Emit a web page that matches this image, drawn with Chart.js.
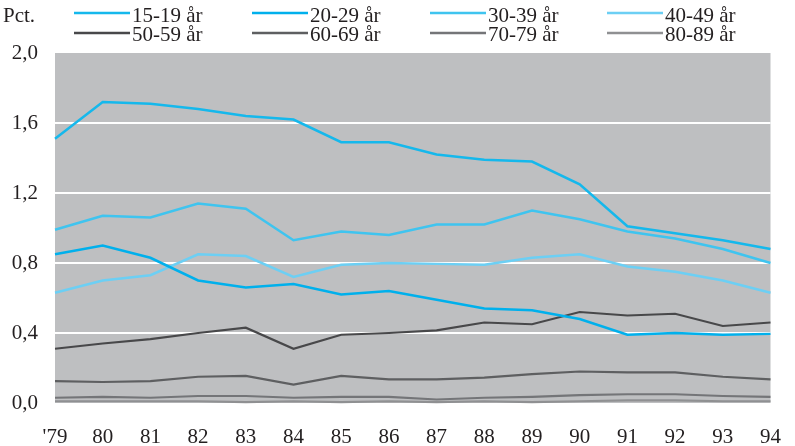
<!DOCTYPE html>
<html>
<head>
<meta charset="utf-8">
<script src="https://cdn.jsdelivr.net/npm/chart.js@4"></script>
<style>
  html, body { margin: 0; padding: 0; background: #fff; }
  #wrap { width: 795px; height: 446px; position: relative; }
</style>
</head>
<body>
<div id="wrap"><canvas id="myChart"></canvas></div>
<script>
  /* DATA */
  const years = ["'79", '80', '81', '82', '83', '84', '85', '86', '87', '88', '89', '90', '91', '92', '93', '94'];
  const seriesNames = ['15-19 år', '20-29 år', '30-39 år', '40-49 år', '50-59 år', '60-69 år', '70-79 år', '80-89 år'];
  const age15to19 = [1.51, 1.72, 1.71, 1.68, 1.64, 1.62, 1.49, 1.49, 1.42, 1.39, 1.38, 1.25, 1.01, 0.97, 0.93, 0.88];
  const age20to29 = [0.85, 0.90, 0.83, 0.70, 0.66, 0.68, 0.62, 0.64, 0.59, 0.54, 0.53, 0.48, 0.39, 0.40, 0.39, 0.395];
  const age30to39 = [0.99, 1.07, 1.06, 1.14, 1.11, 0.93, 0.98, 0.96, 1.02, 1.02, 1.10, 1.05, 0.98, 0.94, 0.88, 0.80];
  const age40to49 = [0.63, 0.70, 0.73, 0.85, 0.84, 0.72, 0.79, 0.80, 0.795, 0.79, 0.83, 0.85, 0.78, 0.75, 0.70, 0.63];
  const age50to59 = [0.31, 0.34, 0.365, 0.40, 0.43, 0.31, 0.39, 0.40, 0.415, 0.46, 0.45, 0.52, 0.50, 0.51, 0.44, 0.46];
  const age60to69 = [0.125, 0.12, 0.125, 0.15, 0.155, 0.105, 0.155, 0.135, 0.135, 0.145, 0.165, 0.18, 0.175, 0.175, 0.15, 0.135];
  const age70to79 = [0.03, 0.035, 0.03, 0.04, 0.04, 0.03, 0.035, 0.035, 0.02, 0.03, 0.035, 0.045, 0.05, 0.05, 0.04, 0.035];
  const age80to89 = [0.01, 0.01, 0.01, 0.01, 0.005, 0.01, 0.005, 0.01, 0.005, 0.01, 0.005, 0.01, 0.015, 0.015, 0.01, 0.01];
  const yTicks = [0, 0.4, 0.8, 1.2, 1.6, 2.0];

  const allSeries = [age15to19, age20to29, age30to39, age40to49, age50to59, age60to69, age70to79, age80to89];
  const colors = ['#15b8ec', '#00b0ec', '#3fc4ef', '#6ccff4', '#48484a', '#5e5f61', '#747578', '#8f9092'];
  const widths = [2.5, 2.5, 2.5, 2.5, 2.2, 2.2, 2.2, 2.2];

  const FONT = 'Liberation Serif';
  const FONT_SIZE = 21;

  /* PLOT BACKGROUND */
  const plotBg = {
    id: 'plotBg',
    beforeDraw(chart) {
      const { ctx, chartArea: a } = chart;
      ctx.save();
      ctx.fillStyle = '#bebfc1';
      ctx.fillRect(a.left, a.top, a.right - a.left, a.bottom - a.top);
      ctx.restore();
    }
  };

  /* LEGEND, 4 columns x 2 rows, with "Pct." on the left */
  const pctLegend = {
    id: 'pctLegend',
    afterDraw(chart) {
      const ctx = chart.ctx;
      const colX = [74, 252, 430, 607];
      const lineY = [13, 33];
      const textY = [22, 40.5];
      ctx.save();
      ctx.font = FONT_SIZE + 'px "' + FONT + '"';
      ctx.textBaseline = 'alphabetic';
      ctx.fillStyle = '#231f20';
      ctx.fillText('Pct.', 3, 22);
      chart.data.datasets.forEach((ds, i) => {
        const x = colX[i % 4];
        const row = Math.floor(i / 4);
        ctx.strokeStyle = ds.borderColor;
        ctx.lineWidth = 2.5;
        ctx.beginPath();
        ctx.moveTo(x, lineY[row]);
        ctx.lineTo(x + 56, lineY[row]);
        ctx.stroke();
        ctx.fillStyle = '#231f20';
        ctx.fillText(ds.label, x + 58, textY[row]);
      });
      ctx.restore();
    }
  };

  function initChart(chart) {
    const datasets = [];
    for (let i = 0; i < allSeries.length; i++) {
      datasets.push({
        label: seriesNames[i],
        data: allSeries[i],
        borderColor: colors[i],
        backgroundColor: colors[i],
        borderWidth: widths[i],
        pointRadius: 0,
        tension: 0,
        clip: false
      });
    }

    return new Chart(chart, {
      type: 'line',
      data: { labels: years, datasets: datasets },
      plugins: [plotBg, pctLegend],
      options: {
        responsive: true,
        maintainAspectRatio: false,
        animation: false,
        layout: { padding: { top: 53, right: 23, left: 0, bottom: 0 } },
        plugins: {
          legend: { display: false },
          tooltip: { enabled: false }
        },
        scales: {
          x: {
            offset: false,
            grid: { display: false },
            border: { display: false },
            ticks: {
              color: '#231f20',
              font: { family: FONT, size: FONT_SIZE },
              maxRotation: 0,
              autoSkip: false,
              padding: 14
            },
            afterFit(scale) { scale.height = 43; }
          },
          y: {
            min: 0,
            max: 2,
            afterBuildTicks(scale) { scale.ticks = yTicks.map(v => ({ value: v })); },
            grid: {
              color: ctx => (ctx.tick.value > 0 && ctx.tick.value < 2) ? '#ffffff' : 'rgba(0,0,0,0)',
              lineWidth: 2,
              drawTicks: false
            },
            border: { display: false },
            ticks: {
              color: '#231f20',
              font: { family: FONT, size: FONT_SIZE },
              padding: 17,
              callback: v => Number(v).toFixed(1).replace('.', ',')
            },
            afterFit(scale) { scale.width = 55; }
          }
        }
      }
    });
  }

  document.addEventListener('DOMContentLoaded', () => {
    initChart(document.querySelector('#myChart'));
  });
</script>
</body>
</html>
